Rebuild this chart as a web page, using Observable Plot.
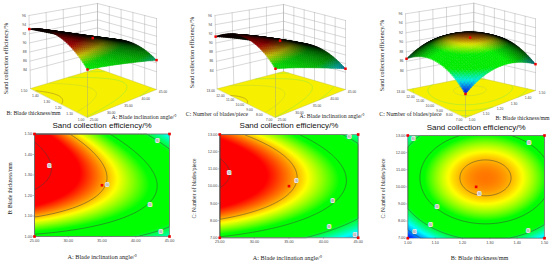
<!DOCTYPE html>
<html><head><meta charset="utf-8">
<script src="https://cdn.jsdelivr.net/npm/d3@7"></script>
<script src="https://cdn.jsdelivr.net/npm/@observablehq/plot@0.6"></script>
<style>
html,body{margin:0;padding:0;background:#fff}
#chart{position:relative;width:550px;height:264px;overflow:hidden}
#chart>svg{position:absolute;background:none}
</style></head><body><div id="chart"></div>
<script>
// Values (rows: lowest to highest y factor; columns: lowest to highest x factor)
const efficiencyAB = [
  [87.70,87.29,86.73,86.03,85.18],
  [90.58,89.90,89.06,88.08,86.96],
  [92.19,91.23,90.12,88.87,87.47],
  [92.52,91.29,89.90,88.37,86.70],
  [91.58,90.07,88.41,86.61,84.66]];
const efficiencyAC = [
  [87.87,87.28,86.46,85.40,84.12],
  [90.65,89.95,89.02,87.86,86.47],
  [92.05,91.24,90.20,88.93,87.43],
  [92.06,91.14,90.00,88.62,87.01],
  [90.69,89.66,88.41,86.92,85.20]];
const efficiencyBC = [
  [82.97,85.24,86.24,85.95,84.37],
  [85.70,87.97,88.97,88.68,87.10],
  [86.95,89.23,90.22,89.93,88.36],
  [86.73,89.01,90.00,89.71,88.13],
  [85.03,87.31,88.30,88.01,86.44]];
const angleTicks = [25,30,35,40,45];
const thicknessTicks = [1.0,1.1,1.2,1.3,1.4,1.5];
const bladeTicks = [7,8,9,10,11,12,13];
const efficiencyTicks = [84,86,88,90,92,94,96];
const contourLevels = [84,86,88,90,92];
const labelsAB = [[27.2,1.345,"92"],[35.8,1.25,"90"],[42.1,1.155,"88"],[43.2,1.467,"86"],[43.7,1.02,"86"]];
const labelsAC = [[26.35,10.77,"92"],[36.1,10.3,"90"],[41.3,9.13,"88"],[40.8,7.62,"86"],[43.7,12.85,"86"],[44.5,7.17,"84"]];
const labelsBC = [[1.262,9.59,"90"],[1.107,8.83,"88"],[1.443,12.57,"88"],[1.083,7.78,"86"],[1.44,7.39,"86"],[1.02,12.79,"86"],[1.024,7.35,"84"]];
const titleText = "Sand collection efficiency/%";
const angleName = "A: Blade inclination angle/°";
const thicknessName = "B: Blade thickness/mm";
const bladeName = "C: Number of blades/piece";

const SANS = "Liberation Sans", SERIF = "Liberation Serif";
const scaleDomain = [83,84.8,86.3,88.3,89.6,91];
const scaleRange = ["#0000ff","#00ffff","#00ff00","#00ff00","#ffff00","#ff0000"];
const zoneColor = d3.scaleLinear().domain(scaleDomain).range(scaleRange).clamp(true);
const nodes = [-1,-.5,0,.5,1];
const lag = (u) => nodes.map((n,i) => nodes.reduce((p,m,j) => j===i ? p : p*(u-m)/(n-m), 1));
const surface = (grid) => (s,t) => { // s,t in 0..1
  const a = lag(2*s-1), b = lag(2*t-1);
  let z = 0;
  for (let j=0;j<5;j++) for (let i=0;i<5;i++) z += b[j]*a[i]*grid[j][i];
  return z;
};
const chart = document.getElementById("chart");
function place(svg,left,top){ svg.style.left=left+"px"; svg.style.top=top+"px"; chart.appendChild(svg); }

const panels = [
 {grid:efficiencyAB,xd:[25,45],yd:[1,1.5],xt:angleTicks,yt:thicknessTicks,xn:angleName,yn:thicknessName,labels:labelsAB,
  fx:34,fw:135,fy:133.5,fh:102.5,xlab:[101.7,257],ylab:[10,188],
  floor:{f:[87,117],r:[156,89],b:[97,68],l:[30,88]},top:{f:[87,33],r:[156,18],b:[97,3],l:[28.5,15]},lift:1.44,
  sl:[112,116,143.5],tl:[7,113,33],zl:[6,58]},
 {grid:efficiencyAC,xd:[25,45],yd:[7,13],xt:angleTicks,yt:bladeTicks,xn:angleName,yn:bladeName,labels:labelsAC,
  fx:219.3,fw:138.4,fy:134,fh:103.3,xlab:[287,258],ylab:[194,188],
  floor:{f:[275,117],r:[345,89],b:[283,71],l:[216.7,88.3]},top:{f:[275,26],r:[345,20],b:[283,4],l:[214.5,15]},lift:.7,
  sl:[300,115,331.5],tl:[187,113.5,216.5],zl:[191.7,52]},
 {grid:efficiencyBC,xd:[1,1.5],yd:[7,13],xt:thicknessTicks,yt:bladeTicks,xn:thicknessName,yn:bladeName,labels:labelsBC,
  fx:407.3,fw:136.7,fy:135,fh:102.7,xlab:[479,258],ylab:[383,188],
  floor:{f:[465,117.3],r:[535,90],b:[473,76],l:[406.7,89.3]},top:{f:[465,32],r:[535,18.3],b:[473.3,2.7],l:[405,13.3]},lift:1.5,
  sl:[496,117,522],tl:[378,114,410],zl:[381.7,55]}
];

// ---------- contour plots ----------
for (const p of panels) {
  const f = surface(p.grid);
  const sx = x => (x-p.xd[0])/(p.xd[1]-p.xd[0]), sy = y => (y-p.yd[0])/(p.yd[1]-p.yd[0]);
  const val = (x,y) => f(sx(x),sy(y));
  const ml=p.fx-2, mt=p.fy-124, mr=6, mb=264-(p.fy+p.fh);
  const design=[[p.xd[0],p.yd[0]],[p.xd[1],p.yd[0]],[p.xd[0],p.yd[1]],[p.xd[1],p.yd[1]],[(p.xd[0]+p.xd[1])/2,(p.yd[0]+p.yd[1])/2]];
  const ext={x1:p.xd[0],x2:p.xd[1],y1:p.yd[0],y2:p.yd[1]};
  const svg = Plot.plot({
    width: p.fx+p.fw+mr-2, height: 140, marginLeft: ml, marginTop: mt, marginRight: mr, marginBottom: mb,
    style:{fontFamily:SANS,background:"none",overflow:"visible"},
    x:{domain:p.xd}, y:{domain:p.yd},
    color:{type:"linear",domain:scaleDomain,range:scaleRange,interpolate:"rgb",clamp:true},
    marks:[
      Plot.raster({...ext,fill:val,pixelSize:1}),
      Plot.contour({...ext,value:val,thresholds:contourLevels,stroke:"#3c3c3c",strokeWidth:.5,fill:"none",pixelSize:1}),
      Plot.frame({stroke:"#999",strokeWidth:.5}),
      Plot.axisX({ticks:p.xt,tickFormat:d3.format(".2f"),tickSize:1.5,tickPadding:1.5,fontSize:3.8,label:null,stroke:"#666",strokeWidth:.4,fill:"#444"}),
      Plot.axisY({ticks:p.yt,tickFormat:d3.format(".2f"),tickSize:1.5,tickPadding:1,fontSize:3.8,label:null,stroke:"#666",strokeWidth:.4,fill:"#444"}),
      Plot.text(p.labels,{x:d=>d[0],y:d=>d[1],text:d=>d[2],fontSize:2.6,fill:"#777",stroke:"#e8e8e8",strokeWidth:1.9}),
      Plot.dot(design,{x:d=>d[0],y:d=>d[1],symbol:"square",r:1.5,fill:"#f00000"}),
      Plot.text([titleText],{frameAnchor:"top",dy:-6,lineAnchor:"bottom",fontSize:8,fontFamily:SANS,fill:"#111"})
    ]
  });
  place(svg,2,124);
  // axis titles in their own overlay
  const ov = Plot.plot({width:550,height:264,margin:0,x:{domain:[0,550],range:[0,550],axis:null},y:{domain:[0,264],range:[0,264],axis:null},
    style:{background:"none",fontFamily:SERIF},
    marks:[
      Plot.text([p.xn],{x:()=>p.xlab[0],y:()=>p.xlab[1],fontSize:6.2,fontFamily:SERIF,fill:"#222"}),
      Plot.text([p.yn],{x:()=>p.ylab[0],y:()=>p.ylab[1],rotate:-90,fontSize:5.6,fontFamily:SERIF,fill:"#222"})
    ]});
  place(ov,0,0);
}

// ---------- 3D response surfaces ----------
const mixP=(a,b,w)=>[a[0]+(b[0]-a[0])*w,a[1]+(b[1]-a[1])*w];
function projector(p){
  const bil=(c,s,t)=>mixP(mixP(c.f,c.r,s),mixP(c.l,c.b,s),t);
  return (s,t,z)=>{ const w=(z-80)/16; return mixP(bil(p.floor,s,t),bil(p.top,s,t),w); };
}
const L=[-.646,-.646,.4];
const clamp01=v=>Math.max(0,Math.min(1,v));
for (const p of panels) {
  const f=surface(p.grid), P=projector(p), N=36;
  const sH=p.lift, sfc=(s,t)=>P(s,t,f(s,t)+sH);
  const quads=[];
  for(let j=N-1;j>=0;j--) for(let i=N-1;i>=0;i--){
    const s0=i/N,s1=(i+1)/N,t0=j/N,t1=(j+1)/N,sm=(s0+s1)/2,tm=(t0+t1)/2;
    const z=f(sm,tm), dzs=(f(s1,tm)-f(s0,tm))*N, dzt=(f(sm,t1)-f(sm,t0))*N;
    const n=[-.053*dzs,-.053*dzt,1], len=Math.hypot(...n);
    const d=(n[0]*L[0]+n[1]*L[1]+n[2]*L[2])/len;
    const shade=clamp01((d-.26)/.42)*.88+.04;
    const c=d3.rgb(zoneColor(z));
    const col=d3.rgb(c.r*shade,c.g*shade,c.b*shade).formatHex();
    quads.push({color:col,geom:{type:"Polygon",coordinates:[[sfc(s0,t0),sfc(s1,t0),sfc(s1,t1),sfc(s0,t1),sfc(s0,t0)]]}});
  }
  const sT=p.xt.map(v=>(v-p.xd[0])/(p.xd[1]-p.xd[0])), tT=p.yt.map(v=>(v-p.yd[0])/(p.yd[1]-p.yd[0]));
  const wall=[];
  for(const z of efficiencyTicks){ wall.push([P(0,1,z),P(1,1,z),P(1,0,z)]); }
  for(const s of sT) wall.push([P(s,1,80),P(s,1,96)]);
  for(const t of tT) wall.push([P(1,t,80),P(1,t,96)]);
  const drops=[[P(0,0,80),P(0,0,f(0,0)+sH)]];
  // floor contours
  const n=70, vals=new Float64Array(n*n);
  for(let y=0;y<n;y++) for(let x=0;x<n;x++) vals[y*n+x]=f(x/(n-1),y/(n-1));
  const cs=d3.contours().size([n,n]).thresholds(contourLevels)(Array.from(vals));
  const floorLines=[];
  cs.forEach(c=>{
    const segs=[];
    c.coordinates.forEach(poly=>poly.forEach(ring=>{
      let cur=[];
      ring.forEach(([x,y])=>{
        const inside=x>.6&&x<n-.6&&y>.6&&y<n-.6;
        if(inside) cur.push(P((x-.5)/(n-1),(y-.5)/(n-1),80));
        else { if(cur.length>1) segs.push(cur); cur=[]; }
      });
      if(cur.length>1) segs.push(cur);
    }));
    floorLines.push({level:c.value,geom:{type:"MultiLineString",coordinates:segs}});
  });
  const floorColor=l=>l>=92?"#a88a20":l>=90?"#c9d82a":"#9ee83a";
  const dots=[[0,0],[1,0],[0,1],[.5,.5]].map(([s,t])=>P(s,t,f(s,t)+sH));
  const fmt=d3.format(".2f");
  const xLabs=sT.map((s,i)=>({pos:P(s,0,80),txt:fmt(p.xt[i])}));
  const yLabs=tT.map((t,i)=>({pos:P(0,t,80),txt:fmt(p.yt[i])}));
  const zLabs=efficiencyTicks.map(z=>({pos:P(0,1,z),txt:String(z)}));
  const svg=Plot.plot({
    width:550,height:124,margin:0,projection:d3.geoIdentity(),
    style:{background:"none",fontFamily:SANS},
    marks:[
      Plot.geo(wall.map(c=>({type:"LineString",coordinates:c})),{stroke:"#a8a8a8",strokeWidth:.45,fill:"none"}),
      Plot.geo([{type:"Polygon",coordinates:[[P(0,0,80),P(1,0,80),P(1,1,80),P(0,1,80),P(0,0,80)]]}],{fill:"#f6f000",stroke:"#b8b840",strokeWidth:.4}),
      Plot.geo(floorLines,{geometry:d=>d.geom,stroke:d=>floorColor(d.level),strokeWidth:.6,fill:"none"}),
      Plot.geo(drops.map(c=>({type:"LineString",coordinates:c})),{stroke:"#999",strokeWidth:.4,fill:"none"}),
      Plot.geo(quads,{geometry:d=>d.geom,fill:d=>d.color,stroke:d=>d.color,strokeWidth:.5}),
      Plot.dot(dots,{x:d=>d[0],y:d=>d[1],symbol:"square",r:1.4,fill:"#f00000"}),
      Plot.text(xLabs,{x:d=>d.pos[0],y:d=>d.pos[1],text:"txt",dx:6.5,dy:2,fontSize:3.4,fill:"#444"}),
      Plot.text(yLabs,{x:d=>d.pos[0],y:d=>d.pos[1],text:"txt",dx:-6.5,dy:2,fontSize:3.4,fill:"#444"}),
      Plot.text(zLabs,{x:d=>d.pos[0],y:d=>d.pos[1],text:"txt",dx:-5,fontSize:3.4,fill:"#444"}),
      Plot.text([p.xn],{x:()=>p.sl[2],y:()=>p.sl[1],dy:1,fontSize:5.8,fontFamily:SERIF,fill:"#222"}),
      Plot.text([p.yn],{x:()=>p.tl[2],y:()=>p.tl[1],fontSize:5.8,fontFamily:SERIF,fill:"#222"}),
      Plot.text([titleText],{x:()=>p.zl[0],y:()=>p.zl[1],rotate:-90,fontSize:6.2,fontFamily:SERIF,fill:"#222"})
    ]
  });
  place(svg,0,0);
}
</script></body></html>
